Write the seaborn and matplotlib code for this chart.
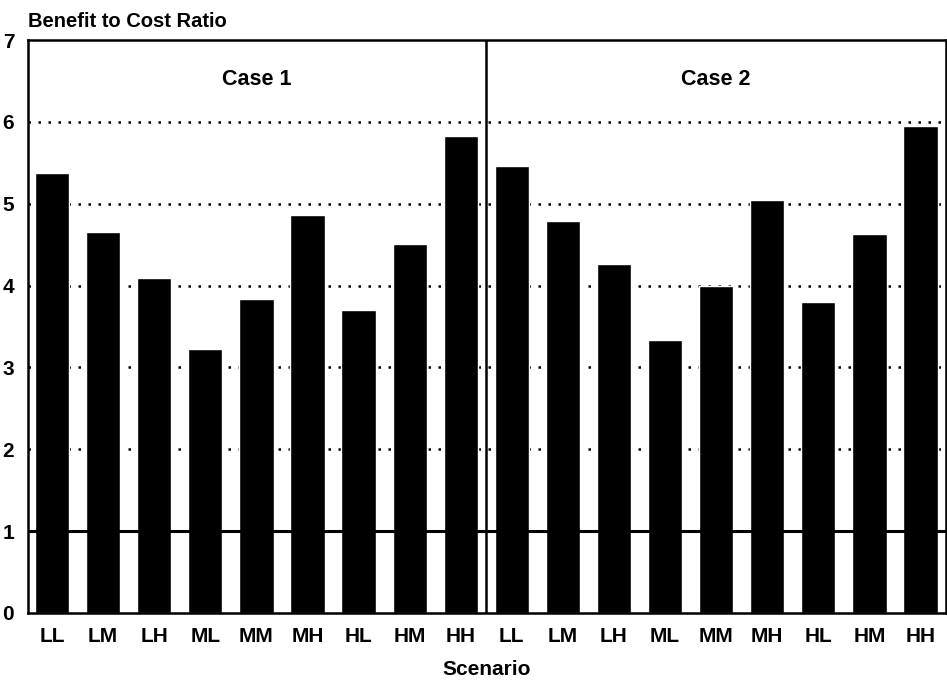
import matplotlib
matplotlib.use("Agg")
import matplotlib.pyplot as plt
import seaborn as sns
import pandas as pd

# values
scenarios = ["LL", "LM", "LH", "ML", "MM", "MH", "HL", "HM", "HH"]
case1 = [5.37, 4.65, 4.09, 3.22, 3.84, 4.86, 3.70, 4.51, 5.83]
case2 = [5.46, 4.79, 4.26, 3.34, 3.99, 5.04, 3.80, 4.63, 5.95]
case_names = ["Case 1", "Case 2"]

df = pd.DataFrame({
    "key": [f"{c}|{s}" for c in case_names for s in scenarios],
    "scenario": scenarios * 2,
    "ratio": case1 + case2,
})

sns.set_style("white")
plt.rcParams["font.family"] = ["Liberation Sans", "DejaVu Sans"]
plt.rcParams["font.weight"] = "bold"
plt.rcParams["text.color"] = "black"
plt.rcParams["xtick.color"] = "black"
plt.rcParams["ytick.color"] = "black"
plt.rcParams["axes.labelcolor"] = "black"

fig = plt.figure(figsize=(9.47, 6.84), dpi=100)
ax = fig.add_axes([0.0296, 0.104, 0.9694, 0.8375])

# dotted reference lines behind the bars
for y in [2, 3, 4, 5, 6]:
    ax.axhline(y, color="black", linestyle=(0, (1, 3)), linewidth=1.8, zorder=0)

sns.barplot(data=df, x="key", y="ratio", order=df["key"], color="black",
            width=0.67, saturation=1, ax=ax, zorder=2)

# break-even line at ratio = 1
ax.axhline(1, color="black", linewidth=2.2, zorder=3)
# divider between the two cases
ax.axvline(8.5, color="black", linewidth=1.8, zorder=3)

ax.set_xlim(-0.47, 17.5)
ax.set_ylim(0, 7)
ax.set_yticks(range(0, 8))
ax.set_yticklabels([str(v) for v in range(0, 8)], fontsize=15, fontweight="bold")
ax.set_xticks(range(len(df)))
ax.set_xticklabels(df["scenario"], fontsize=15, fontweight="bold")
ax.tick_params(axis="x", length=0, pad=10)
ax.tick_params(axis="y", length=0, pad=10)

for s in ["left", "top", "bottom", "right"]:
    ax.spines[s].set_visible(True)
    ax.spines[s].set_color("black")
    ax.spines[s].set_linewidth(1.8)

ax.set_xlabel("Scenario", fontsize=15, fontweight="bold", labelpad=10)
ax.set_ylabel("")
fig.text(0.0296, 0.955, "Benefit to Cost Ratio", fontsize=14.5, fontweight="bold",
         ha="left", va="bottom")

ax.text(4, 6.52, case_names[0], ha="center", va="center", fontsize=15.5, fontweight="bold")
ax.text(13, 6.52, case_names[1], ha="center", va="center", fontsize=15.5, fontweight="bold")

fig.savefig("out.png", dpi=100)
